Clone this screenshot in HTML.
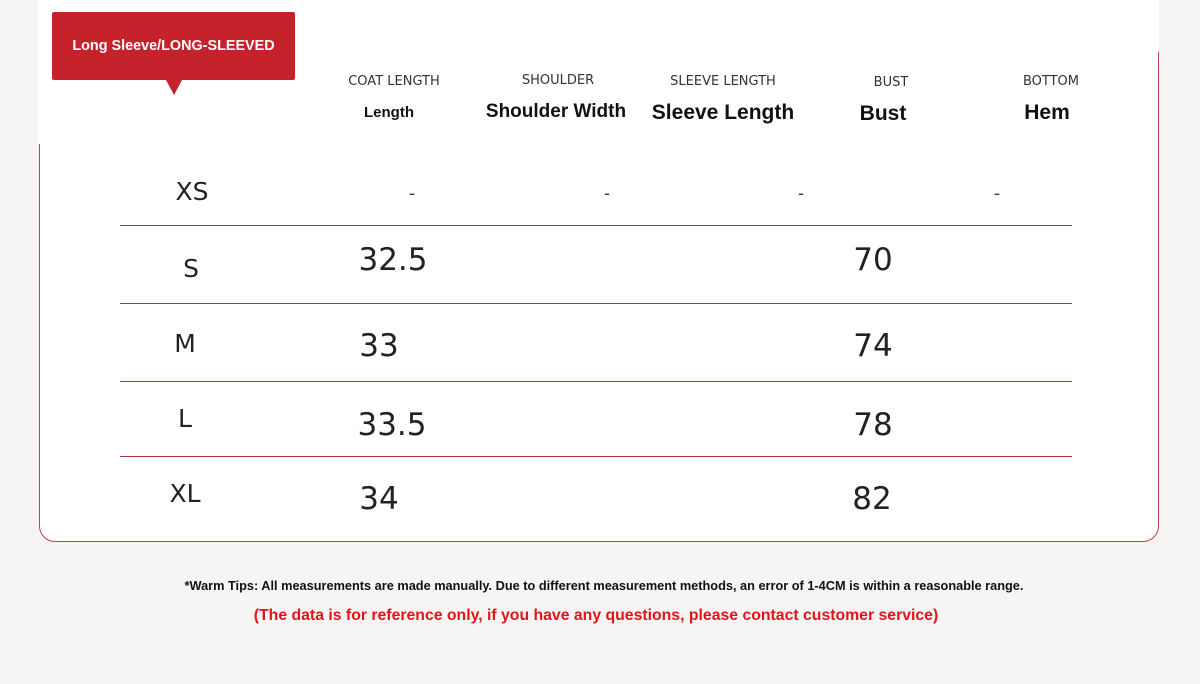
<!DOCTYPE html>
<html><head><style>
html,body{margin:0;padding:0}
body{width:1200px;height:684px;background:#f7f5f3;position:relative;overflow:hidden;font-family:"DejaVu Sans","Liberation Sans",sans-serif;}
.card{position:absolute;left:39px;top:-20px;width:1118px;height:560px;background:#fff;border:1px solid #b9434a;border-radius:0 0 16px 16px;}
.mask1{position:absolute;left:38px;top:0;width:3px;height:144px;background:#fff}
.mask2{position:absolute;left:1156px;top:0;width:3px;height:52px;background:#fff}
.tag{position:absolute;left:52px;top:12px;width:243px;height:68px;background:#c6222b;border-radius:2px;color:#fff;font:bold 14.4px "Liberation Sans",sans-serif;display:flex;align-items:center;justify-content:center}
.tri{position:absolute;left:166px;top:80px;width:0;height:0;border-left:8px solid transparent;border-right:8px solid transparent;border-top:15px solid #c6222b}
.t{position:absolute;white-space:nowrap;transform:translateX(-50%)}
.h1{font-size:13px;color:#333;top:74px}
.h2{font-weight:bold;color:#111;font-family:"Liberation Sans",sans-serif}
.line{position:absolute;left:120px;width:952px;height:1px;background:#a8393f}
.sz{font-size:25px;color:#222}
.num{font-size:31px;color:#222}
.dash{font-size:18px;color:#444;top:183px}
</style></head><body>
<div class="card"></div><div class="mask1"></div><div class="mask2"></div>
<div class="tag">Long Sleeve/LONG-SLEEVED</div><div class="tri"></div>
<div class="t h1" style="left:394px">COAT LENGTH</div>
<div class="t h1" style="left:558px;top:73px">SHOULDER</div>
<div class="t h1" style="left:723px">SLEEVE LENGTH</div>
<div class="t h1" style="left:891px;top:75px">BUST</div>
<div class="t h1" style="left:1051px">BOTTOM</div>
<div class="t h2" style="left:389px;top:104px;font-size:15px">Length</div>
<div class="t h2" style="left:556px;top:101px;font-size:19px">Shoulder Width</div>
<div class="t h2" style="left:723px;top:101px;font-size:21px">Sleeve Length</div>
<div class="t h2" style="left:883px;top:102px;font-size:21px">Bust</div>
<div class="t h2" style="left:1047px;top:101px;font-size:21px">Hem</div>
<div class="t sz" style="left:192px;top:177px">XS</div>
<div class="t dash" style="left:412px">-</div><div class="t dash" style="left:607px">-</div><div class="t dash" style="left:801px">-</div><div class="t dash" style="left:997px">-</div>
<div class="line" style="top:225px"></div>
<div class="t sz" style="left:191px;top:254px">S</div>
<div class="t num" style="left:393px;top:242px">32.5</div><div class="t num" style="left:873px;top:242px">70</div>
<div class="line" style="top:303px"></div>
<div class="t sz" style="left:185px;top:329px">M</div>
<div class="t num" style="left:379px;top:328px">33</div><div class="t num" style="left:873px;top:328px">74</div>
<div class="line" style="top:381px"></div>
<div class="t sz" style="left:185px;top:404px">L</div>
<div class="t num" style="left:392px;top:407px">33.5</div><div class="t num" style="left:873px;top:407px">78</div>
<div class="line" style="top:456px"></div>
<div class="t sz" style="left:185px;top:479px">XL</div>
<div class="t num" style="left:379px;top:481px">34</div><div class="t num" style="left:872px;top:481px">82</div>
<div class="t" style="left:604px;top:578px;font:bold 12.75px 'Liberation Sans',sans-serif;color:#111">*Warm Tips: All measurements are made manually. Due to different measurement methods, an error of 1-4CM is within a reasonable range.</div>
<div class="t" style="left:596px;top:607px;font:bold 15.8px 'Liberation Sans',sans-serif;color:#e0141b">(The data is for reference only, if you have any questions, please contact customer service)</div>
</body></html>
